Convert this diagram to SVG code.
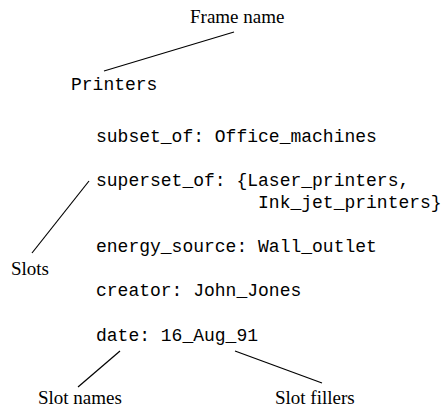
<svg xmlns="http://www.w3.org/2000/svg" width="441" height="409" viewBox="0 0 441 409">
<style>
.lbl{font-family:"Liberation Serif","Times New Roman",serif;font-size:19px;fill:#000}
.code{font-family:"Liberation Mono","Courier New",monospace;font-size:18px;fill:#000;white-space:pre}
.ln{stroke:#000;stroke-width:1.2;fill:none}
</style>
<rect width="441" height="409" fill="#fff"/>
<g id="connectors">
<line class="ln" x1="234" y1="32" x2="104" y2="71"/>
<line class="ln" x1="89" y1="181" x2="32" y2="253"/>
<line class="ln" x1="120" y1="351" x2="78" y2="387"/>
<line class="ln" x1="235" y1="351" x2="322" y2="383"/>
</g>
<g id="frame-name-label"><text class="lbl" x="190" y="23">Frame name</text></g>
<g id="frame"><text class="code" x="71" y="90">Printers</text></g>
<g id="slots">
<text class="code" x="96" y="142">subset_of: Office_machines</text>
<text class="code" x="96" y="186">superset_of: {Laser_printers,</text>
<text class="code" x="96" y="208">               Ink_jet_printers}</text>
<text class="code" x="96" y="252">energy_source: Wall_outlet</text>
<text class="code" x="96" y="296">creator: John_Jones</text>
<text class="code" x="96" y="341">date: 16_Aug_91</text>
</g>
<g id="slots-label"><text class="lbl" x="11" y="275">Slots</text></g>
<g id="slot-names-label"><text class="lbl" x="38" y="404">Slot names</text></g>
<g id="slot-fillers-label"><text class="lbl" x="275" y="404">Slot fillers</text></g>
</svg>
